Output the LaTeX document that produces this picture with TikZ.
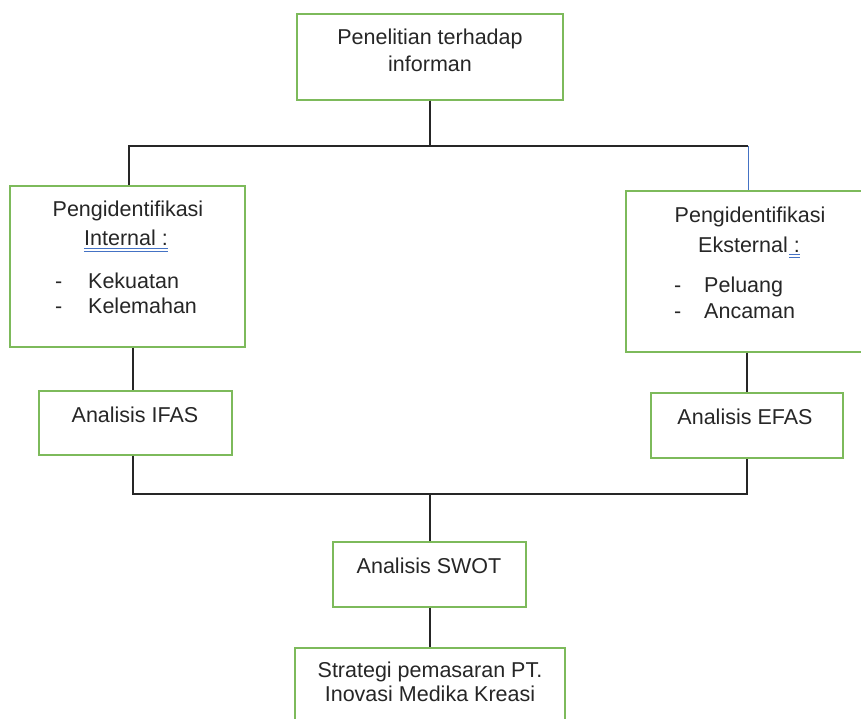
\documentclass[tikz,border=0pt]{standalone}
\usepackage{fontspec}
\setmainfont{Liberation Sans}
\begin{document}
\begin{tikzpicture}[x=1pt,y=-1pt,
  box/.style={draw=boxgreen,line width=1.4pt,rectangle,inner sep=0pt},
  txt/.style={inner sep=0pt,anchor=base,text=txtcol,font=\fontsize{21.5}{26}\selectfont},
  ltxt/.style={txt,anchor=base west},
  link/.style={draw=linecol,line width=1.4pt},
  bluelink/.style={draw=bluecol,line width=1pt}]
\definecolor{boxgreen}{HTML}{7DBA5B}
\definecolor{txtcol}{HTML}{262626}
\definecolor{linecol}{HTML}{262626}
\definecolor{bluecol}{HTML}{4472C4}
\useasboundingbox (0,0) rectangle (861,719);
\clip (0,0) rectangle (861,719);
% boxes
\node[box,minimum width=266pt,minimum height=86pt] (top) at (430,57) {};
\node[box,minimum width=235pt,minimum height=161pt] (left) at (127.5,266.5) {};
\node[box,minimum width=240pt,minimum height=161pt] (right) at (746,271.5) {};
\node[box,minimum width=193pt,minimum height=64pt] (ifas) at (135.5,423) {};
\node[box,minimum width=192pt,minimum height=65pt] (efas) at (747,425.5) {};
\node[box,minimum width=193pt,minimum height=65pt] (swot) at (429.5,574.5) {};
\node[box,minimum width=270pt,minimum height=100pt] (strat) at (430,698) {};
% texts
\node[txt] (t1) at (430,45) {Penelitian terhadap};
\node[txt] (t2) at (430,72) {informan};
\node[txt] (l1) at (128,217) {Pengidentifikasi};
\node[txt] (l2) at (126,245) {Internal :};
\node[ltxt] (l3) at (55,288) {-};
\node[ltxt] (l4) at (88,288) {Kekuatan};
\node[ltxt] (l5) at (55,313) {-};
\node[ltxt] (l6) at (88,313) {Kelemahan};
\node[txt] (r1) at (750,223) {Pengidentifikasi};
\node[txt] (r2) at (749,252) {Eksternal :};
\node[ltxt] (r3) at (674,292) {-};
\node[ltxt] (r4) at (704,292) {Peluang};
\node[ltxt] (r5) at (674,318) {-};
\node[ltxt] (r6) at (704,318) {Ancaman};
\node[txt] (i1) at (135,422) {Analisis IFAS};
\node[txt] (e1) at (745,424) {Analisis EFAS};
\node[txt] (s1) at (429,573) {Analisis SWOT};
\node[txt] (g1) at (430,677) {Strategi pemasaran PT.};
\node[txt] (g2) at (430,701) {Inovasi Medika Kreasi};
% blue underline marks
\draw[bluecol,line width=0.8pt] ([yshift=-2.5pt]l2.south west) -- ([yshift=-2.5pt]l2.south east);
\draw[bluecol,line width=0.8pt] ([yshift=-5.5pt]l2.south west) -- ([yshift=-5.5pt]l2.south east);
\draw[bluecol,line width=0.8pt] ([xshift=-11pt,yshift=-2pt]r2.south east) -- ([yshift=-2pt]r2.south east);
\draw[bluecol,line width=0.8pt] ([xshift=-11pt,yshift=-5pt]r2.south east) -- ([yshift=-5pt]r2.south east);
% junction points
\coordinate (jl) at (129,146);
\coordinate (jr) at (748,146);
\coordinate (bl) at (133,494);
\coordinate (br) at (747,494);
\coordinate (bm) at (430,494);
% connectors
\draw[link] (top.south) |- (jl) -- (jl |- left.north);
\draw[link] (top.south) |- (jr);
\draw[bluelink] (jr) -- (jr |- right.north);
\draw[link] (bl |- left.south) -- (bl |- ifas.north);
\draw[link] (br |- right.south) -- (br |- efas.north);
\draw[link] (bl |- ifas.south) -- (bl) -- (br) -- (br |- efas.south);
\draw[link] (bm) -- (bm |- swot.north);
\draw[link] (swot.south -| bm) -- (strat.north);
\end{tikzpicture}
\end{document}
